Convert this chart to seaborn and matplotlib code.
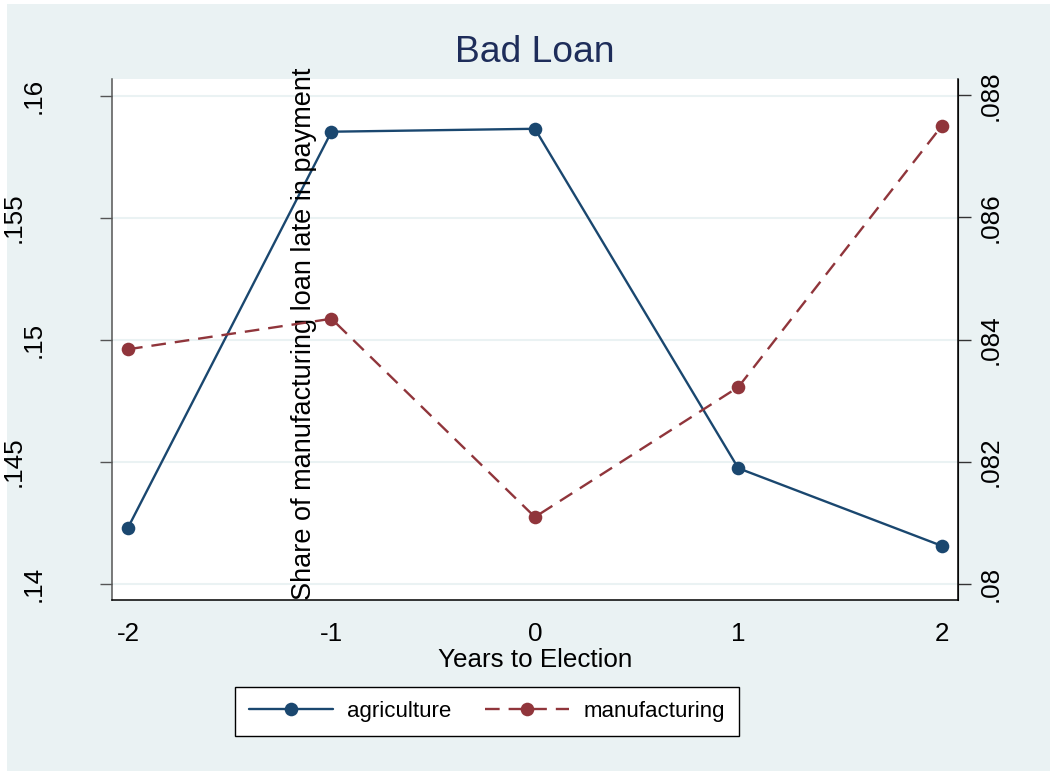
import matplotlib
matplotlib.use("Agg")
import matplotlib.pyplot as plt
import matplotlib.patches as mpatches
import seaborn as sns

# data
years = [-2, -1, 0, 1, 2]
agriculture = [0.14230, 0.15852, 0.15864, 0.14473, 0.14155]
manufacturing = [0.08384, 0.08434, 0.08109, 0.08322, 0.08750]

left_ticks = [0.14, 0.145, 0.15, 0.155, 0.16]
left_labels = [".14", ".145", ".15", ".155", ".16"]
right_ticks = [0.08, 0.082, 0.084, 0.086, 0.088]
right_labels = [".08", ".082", ".084", ".086", ".088"]

sns.set_style("white")
plt.rcParams["font.family"] = ["Liberation Sans", "DejaVu Sans"]
plt.rcParams["text.color"] = "black"
plt.rcParams["axes.labelcolor"] = "black"
plt.rcParams["xtick.labelcolor"] = "black"
plt.rcParams["ytick.labelcolor"] = "black"

BG = "#eaf2f3"
NAVY = "#1a476f"
MAROON = "#90353b"
FS = 18.7

fig = plt.figure(figsize=(10.5, 7.71), dpi=100, facecolor="white")
# stata-like outer background with a thin white border on top/left
fig.patches.append(mpatches.Rectangle((7 / 1050, 0), 1 - 7 / 1050, 1 - 4 / 771,
                                      transform=fig.transFigure, facecolor=BG,
                                      edgecolor="none", zorder=-10))

ax = fig.add_axes([112 / 1050, 1 - 600 / 771, 846 / 1050, 521 / 771])
ax.set_facecolor("white")
ax2 = ax.twinx()

sns.lineplot(x=years, y=agriculture, ax=ax, color=NAVY, lw=1.7, marker="o",
             markersize=9.8, markeredgewidth=0, label="agriculture", legend=False)
sns.lineplot(x=years, y=manufacturing, ax=ax2, color=MAROON, lw=1.7, marker="o",
             markersize=9.8, markeredgewidth=0, label="manufacturing", legend=False)
ax2.lines[0].set_dashes((6.2, 3.8))

ax.set_xlim(-2.079, 2.08)
ax.set_ylim(0.13933, 0.16068)
ax2.set_ylim(0.07973, 0.08827)

ax.set_xticks(years)
ax.set_xticklabels([str(y) for y in years], fontsize=FS)
ax.set_yticks(left_ticks)
ax.set_yticklabels(left_labels, fontsize=FS, rotation=90, va="center")
ax2.set_yticks(right_ticks)
ax2.set_yticklabels(right_labels, fontsize=FS, rotation=90, va="center")

ax.tick_params(axis="x", length=9, width=1, color="#333333", pad=7)
ax.tick_params(axis="y", length=9, width=1, color="#555555")
ax2.tick_params(axis="y", length=9, width=1, color="#333333", pad=6)

# alternate label offsets on the left axis
for i, t in enumerate(ax.yaxis.get_major_ticks()):
    t.set_pad(39 if i % 2 == 0 else 53)

ax.grid(axis="y", color=BG, lw=1.5)
ax.grid(axis="x", visible=False)
ax2.grid(False)

for a in (ax, ax2):
    a.spines["top"].set_visible(False)
ax.spines["left"].set_color("#555555")
ax.spines["bottom"].set_color("black")
ax2.spines["right"].set_color("black")
for s in ("left", "bottom"):
    ax.spines[s].set_linewidth(1.1)
ax2.spines["right"].set_linewidth(1.1)
ax2.spines["left"].set_visible(False)
ax2.spines["bottom"].set_visible(False)

ax.set_xlabel("Years to Election", fontsize=FS, labelpad=1.5)
ax.set_ylabel("")
ax2.set_ylabel("Share of manufacturing loan late in payment", fontsize=19.5)
ax2.yaxis.set_label_coords(0.227, 0.0)
ax2.yaxis.label.set_rotation(90)
ax2.yaxis.label.set_rotation_mode("anchor")
ax2.yaxis.label.set_horizontalalignment("left")
ax2.yaxis.label.set_verticalalignment("center")

fig.text(535 / 1050, 1 - 52 / 771, "Bad Loan", fontsize=26.8, color="#1e2d5a",
         ha="center", va="center")

handles = ax.get_lines()[:1] + ax2.get_lines()[:1]
leg = fig.legend(handles, ["agriculture", "manufacturing"], loc="center",
                 bbox_to_anchor=(487 / 1050, 1 - 711.5 / 771), ncol=2,
                 fontsize=16, frameon=True, fancybox=False, edgecolor="black",
                 handlelength=3.8, handletextpad=0.63, columnspacing=1.5,
                 borderpad=0.62, framealpha=1)
leg.get_frame().set_linewidth(1.0)

fig.savefig("out.png", dpi=100, facecolor=fig.get_facecolor())
